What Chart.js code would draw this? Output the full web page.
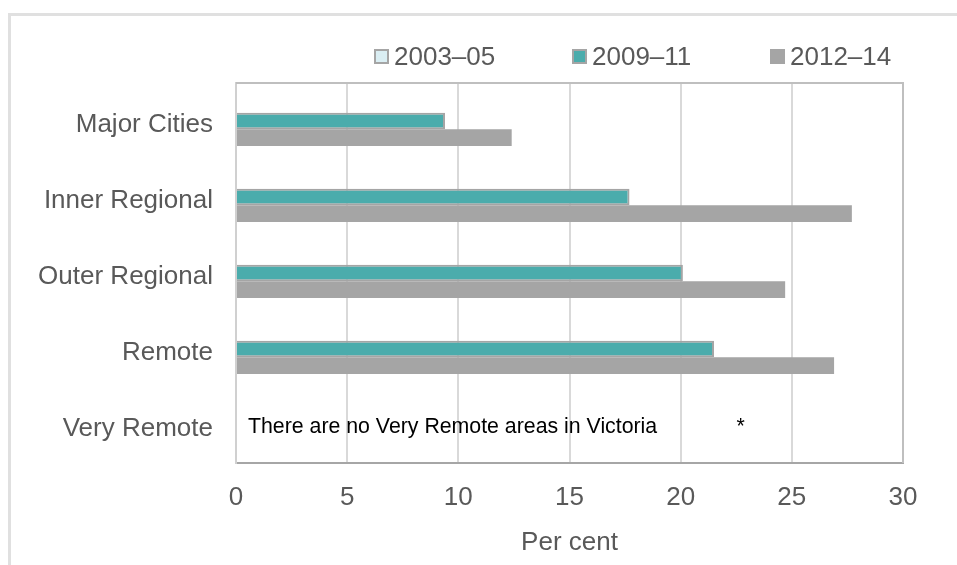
<!DOCTYPE html>
<html>
<head>
<meta charset="utf-8">
<script src="https://cdn.jsdelivr.net/npm/chart.js@4.4.0/dist/chart.umd.min.js"></script>
<style>
    html, body { margin: 0; padding: 0; background: #fff; }
    #wrap { position: relative; width: 957px; height: 565px; overflow: hidden; }
    #frame {
        position: absolute; left: 8px; top: 13px; right: -10px; bottom: -10px;
        border-top: 3px solid #e0e0e0; border-left: 3px solid #e0e0e0;
    }
    #chart { position: absolute; left: 0; top: 0; }
    #legend {
        position: absolute; left: 374px; top: 41px; height: 30px;
        display: flex; align-items: center;
        font: 26px "Liberation Sans", Arial, sans-serif; color: #595959; white-space: nowrap;
    }
    .item { display: flex; align-items: center; width: 198px; }
    .item:last-child { width: auto; }
    .swatch { width: 11px; height: 11px; border: 2px solid transparent; margin-right: 5px; }
</style>
</head>
<body>
<div id="wrap">
    <div id="frame"></div>
    <canvas id="chart" width="957" height="565"></canvas>
    <div id="legend"></div>
</div>
<script>
const categories = ['Major Cities', 'Inner Regional', 'Outer Regional', 'Remote', 'Very Remote'];
const seriesLabels = ['2003–05', '2009–11', '2012–14'];
const values2003 = [null, null, null, null, null];
const values2009 = [9.4, 17.7, 20.1, 21.5, null];
const values2012 = [12.4, 27.7, 24.7, 26.9, null];
const xTicks = [0, 5, 10, 15, 20, 25, 30];
const axisTitle = 'Per cent';
const noteText = 'There are no Very Remote areas in Victoria';
const noteMarker = '*';
const noteMarkerValue = 22.7;

const fills = ['#DAEEF3', '#4BACAC', '#A5A5A5'];
const borders = ['#A5A5A5', '#A5A5A5', '#A5A5A5'];
const borderWidths = [2, 2, 0];
const textColor = '#595959';

Chart.defaults.font.family = '"Liberation Sans", Arial, sans-serif';

// legend in html so it can sit where the original one sits
const legendEl = document.getElementById('legend');
legendEl.innerHTML = seriesLabels.map((label, i) => `
    <div class="item">
        <span class="swatch" style="background:${fills[i]};border-color:${borderWidths[i] ? borders[i] : fills[i]}"></span>
        <span>${label}</span>
    </div>`).join('');

const plotBox = {
    id: 'plotBox',
    beforeDatasetsDraw(chart) {
        const { ctx, chartArea: a } = chart;
        ctx.save();
        ctx.strokeStyle = '#bfbfbf';
        ctx.lineWidth = 2;
        ctx.beginPath();
        ctx.moveTo(a.left, a.top);
        ctx.lineTo(a.right, a.top);
        ctx.lineTo(a.right, a.bottom);
        ctx.stroke();
        ctx.restore();
    },
    afterDatasetsDraw(chart) {
        const { ctx, chartArea: a, scales } = chart;
        const y = scales.y.getPixelForValue(categories.length - 1) + 2;
        ctx.save();
        ctx.fillStyle = '#000';
        ctx.font = '21.3px "Liberation Sans", Arial, sans-serif';
        ctx.textBaseline = 'middle';
        ctx.textAlign = 'left';
        ctx.fillText(noteText, a.left + 12, y);
        ctx.textAlign = 'center';
        ctx.fillText(noteMarker, scales.x.getPixelForValue(noteMarkerValue), y);
        ctx.restore();
    }
};

new Chart(document.getElementById('chart'), {
    type: 'bar',
    data: {
        labels: categories,
        datasets: [values2003, values2009, values2012].map((vals, i) => ({
            label: seriesLabels[i],
            data: vals,
            backgroundColor: fills[i],
            borderColor: borders[i],
            borderWidth: borderWidths[i],
            categoryPercentage: 0.66,
            barPercentage: 1
        }))
    },
    options: {
        indexAxis: 'y',
        responsive: false,
        animation: false,
        layout: { padding: { top: 83, right: 54, left: 0, bottom: 0 } },
        plugins: {
            legend: { display: false },
            tooltip: { enabled: false }
        },
        scales: {
            x: {
                min: 0,
                max: 30,
                afterBuildTicks: scale => { scale.ticks = xTicks.map(v => ({ value: v })); },
                afterFit: scale => { scale.height = 102; },
                ticks: { color: textColor, font: { size: 26 }, padding: 19 },
                grid: { color: '#d9d9d9', lineWidth: 2, drawTicks: false },
                border: { color: '#a6a6a6', width: 2 },
                title: {
                    display: true, text: axisTitle, color: textColor,
                    font: { size: 26 }, padding: { top: 4, bottom: 7 }
                }
            },
            y: {
                afterFit: scale => { scale.width = 236; },
                ticks: { color: textColor, font: { size: 26 }, padding: 23, labelOffset: 4 },
                grid: { display: false, drawTicks: false },
                border: { color: '#d0d0d0', width: 2 }
            }
        }
    },
    plugins: [plotBox]
});
</script>
</body>
</html>
